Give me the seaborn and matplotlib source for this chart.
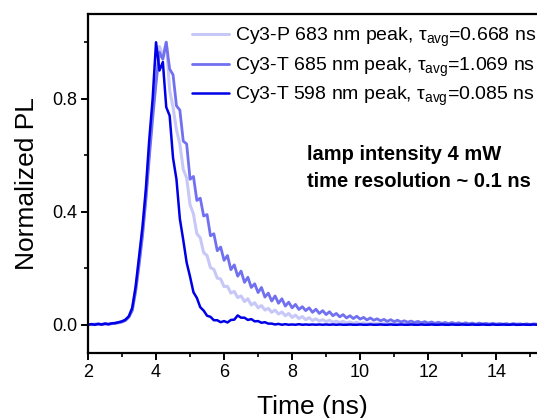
import numpy as np
import pandas as pd
import matplotlib
matplotlib.use("Agg")
import matplotlib.pyplot as plt
from matplotlib.ticker import MultipleLocator, FormatStrFormatter
import seaborn as sns

# time axis of the decay traces (0.1 ns grid, 2.0 .. 15.2 ns)
TIME_NS = np.round(np.arange(2.0, 15.25, 0.1), 1)

LABELS = [
    r"Cy3-P 683 nm peak, $\mathrm{\tau_{avg}}$=0.668 ns",
    r"Cy3-T 685 nm peak, $\mathrm{\tau_{avg}}$=1.069 ns",
    r"Cy3-T 598 nm peak, $\mathrm{\tau_{avg}}$=0.085 ns",
]

CY3P_683 = [
    0.001, 0.000, 0.003, 0.001, 0.002, 0.004, 0.001, 0.004, 0.006, 0.008,
    0.011, 0.017, 0.028, 0.055, 0.125, 0.225, 0.330, 0.455, 0.615, 0.755,
    0.870, 0.985, 0.950, 1.000, 0.830, 0.770, 0.690, 0.640, 0.550, 0.520,
    0.425, 0.392, 0.322, 0.308, 0.255, 0.245, 0.202, 0.196, 0.165, 0.162,
    0.135, 0.136, 0.112, 0.118, 0.096, 0.102, 0.082, 0.092, 0.070, 0.078,
    0.060, 0.068, 0.052, 0.058, 0.044, 0.052, 0.038, 0.045, 0.032, 0.040,
    0.026, 0.034, 0.022, 0.029, 0.018, 0.025, 0.015, 0.021, 0.013, 0.018,
    0.011, 0.016, 0.009, 0.013, 0.008, 0.012, 0.006, 0.010, 0.005, 0.009,
    0.004, 0.007, 0.003, 0.006, 0.003, 0.005, 0.002, 0.005, 0.002, 0.004,
    0.002, 0.004, 0.001, 0.003, 0.001, 0.003, 0.001, 0.003, 0.001, 0.002,
    0.001, 0.003, 0.000, 0.002, 0.001, 0.002, 0.000, 0.002, 0.001, 0.002,
    0.000, 0.002, 0.001, 0.002, 0.000, 0.002, 0.001, 0.001, 0.000, 0.002,
    0.001, 0.002, 0.000, 0.001, 0.001, 0.002, 0.000, 0.001, 0.001, 0.002,
    0.000, 0.001, 0.001,
]

CY3T_685 = [
    0.000, 0.002, 0.001, 0.003, 0.000, 0.003, 0.002, 0.004, 0.005, 0.007,
    0.010, 0.015, 0.027, 0.050, 0.118, 0.210, 0.312, 0.440, 0.590, 0.730,
    0.855, 0.965, 0.940, 1.000, 0.905, 0.885, 0.775, 0.760, 0.650, 0.640,
    0.515, 0.525, 0.440, 0.448, 0.385, 0.390, 0.315, 0.322, 0.262, 0.275,
    0.228, 0.245, 0.195, 0.212, 0.172, 0.190, 0.150, 0.168, 0.132, 0.145,
    0.114, 0.132, 0.098, 0.112, 0.084, 0.102, 0.076, 0.092, 0.066, 0.080,
    0.060, 0.072, 0.054, 0.064, 0.050, 0.060, 0.044, 0.055, 0.040, 0.050,
    0.036, 0.046, 0.032, 0.040, 0.028, 0.036, 0.024, 0.032, 0.022, 0.030,
    0.020, 0.026, 0.017, 0.024, 0.016, 0.021, 0.014, 0.019, 0.012, 0.018,
    0.011, 0.016, 0.010, 0.014, 0.009, 0.013, 0.008, 0.012, 0.007, 0.011,
    0.006, 0.010, 0.005, 0.009, 0.005, 0.008, 0.004, 0.008, 0.004, 0.007,
    0.003, 0.007, 0.003, 0.006, 0.002, 0.006, 0.003, 0.005, 0.002, 0.005,
    0.002, 0.004, 0.002, 0.004, 0.001, 0.004, 0.002, 0.003, 0.001, 0.003,
    0.001, 0.003, 0.002,
]

CY3T_598 = [
    0.000, 0.002, 0.000, 0.003, 0.001, 0.004, 0.002, 0.005, 0.006, 0.009,
    0.012, 0.018, 0.030, 0.060, 0.135, 0.240, 0.345, 0.480, 0.655, 0.800,
    1.000, 0.900, 0.930, 0.770, 0.740, 0.590, 0.515, 0.375, 0.300, 0.220,
    0.170, 0.115, 0.095, 0.062, 0.050, 0.032, 0.028, 0.016, 0.016, 0.009,
    0.013, 0.008, 0.017, 0.018, 0.033, 0.025, 0.025, 0.017, 0.020, 0.012,
    0.013, 0.007, 0.009, 0.004, 0.004, 0.001, 0.003, 0.000, 0.002, 0.000,
    0.001, 0.000, 0.002, 0.000, 0.001, 0.000, 0.001, 0.000, 0.001, 0.000,
    0.001, 0.000, 0.001, 0.000, 0.001, 0.000, 0.000, 0.001, 0.000, 0.000,
    0.001, 0.000, 0.000, 0.001, 0.000, 0.000, 0.001, 0.000, 0.000, 0.001,
    0.000, 0.000, 0.001, 0.000, 0.000, 0.001, 0.000, 0.000, 0.001, 0.000,
    0.000, 0.001, 0.000, 0.000, 0.001, 0.000, 0.000, 0.001, 0.000, 0.000,
    0.001, 0.000, 0.000, 0.001, 0.000, 0.000, 0.001, 0.000, 0.000, 0.001,
    0.000, 0.000, 0.001, 0.000, 0.000, 0.001, 0.000, 0.000, 0.001, 0.000,
    0.000, 0.001, 0.000,
]

COLORS = ["#c8c8f8", "#7070f0", "#0000e6"]
WIDTHS = [2.2, 2.0, 1.8]

sns.set_style("ticks")
plt.rcParams["font.family"] = ["Liberation Sans", "DejaVu Sans"]
plt.rcParams["mathtext.fontset"] = "custom"
plt.rcParams["mathtext.rm"] = "Liberation Sans"
plt.rcParams["mathtext.it"] = "Liberation Sans:italic"
plt.rcParams["text.color"] = "black"
plt.rcParams["axes.labelcolor"] = "black"

frames = []
for label, values in zip(LABELS, [CY3P_683, CY3T_685, CY3T_598]):
    frames.append(pd.DataFrame({"Time": TIME_NS, "PL": values, "trace": label}))
df = pd.concat(frames, ignore_index=True)

fig = plt.figure(figsize=(5.37, 4.18), dpi=100)
ax = fig.add_axes([0.1639, 0.1555, 0.8361, 0.811])

sns.lineplot(
    data=df,
    x="Time",
    y="PL",
    hue="trace",
    hue_order=LABELS,
    palette=dict(zip(LABELS, COLORS)),
    ax=ax,
)
for line, lw in zip(ax.get_lines(), WIDTHS):
    line.set_linewidth(lw)

ax.set_xlim(2, 15.2)
ax.set_ylim(-0.1, 1.1)
ax.xaxis.set_major_locator(MultipleLocator(2))
ax.xaxis.set_minor_locator(MultipleLocator(1))
ax.yaxis.set_major_locator(MultipleLocator(0.4))
ax.yaxis.set_minor_locator(MultipleLocator(0.2))
ax.yaxis.set_major_formatter(FormatStrFormatter("%.1f"))
ax.tick_params(which="major", direction="out", length=5, width=1.4,
               labelsize=13, colors="black", pad=3)
ax.tick_params(which="minor", direction="out", length=3, width=1.2,
               colors="black")
for side in ["left", "bottom", "top"]:
    ax.spines[side].set_linewidth(1.6)
    ax.spines[side].set_color("black")
ax.spines["right"].set_visible(False)

ax.set_xlabel("Time (ns)", fontsize=19, labelpad=10)
ax.set_ylabel("Normalized PL", fontsize=19, labelpad=9)

leg = ax.legend(
    loc="upper right",
    bbox_to_anchor=(1.02, 0.994),
    frameon=False,
    fontsize=14,
    handlelength=1.9,
    handletextpad=0.3,
    labelspacing=0.33,
    borderaxespad=0.3,
    borderpad=0.2,
)
for handle, lw in zip(leg.get_lines(), WIDTHS):
    handle.set_linewidth(lw)

ax.text(8.45, 0.555, "lamp intensity 4 mW\ntime resolution ~ 0.1 ns",
        fontsize=14.5, fontweight="bold", ha="left", va="center",
        linespacing=1.5)

fig.savefig("out.png", dpi=100)
